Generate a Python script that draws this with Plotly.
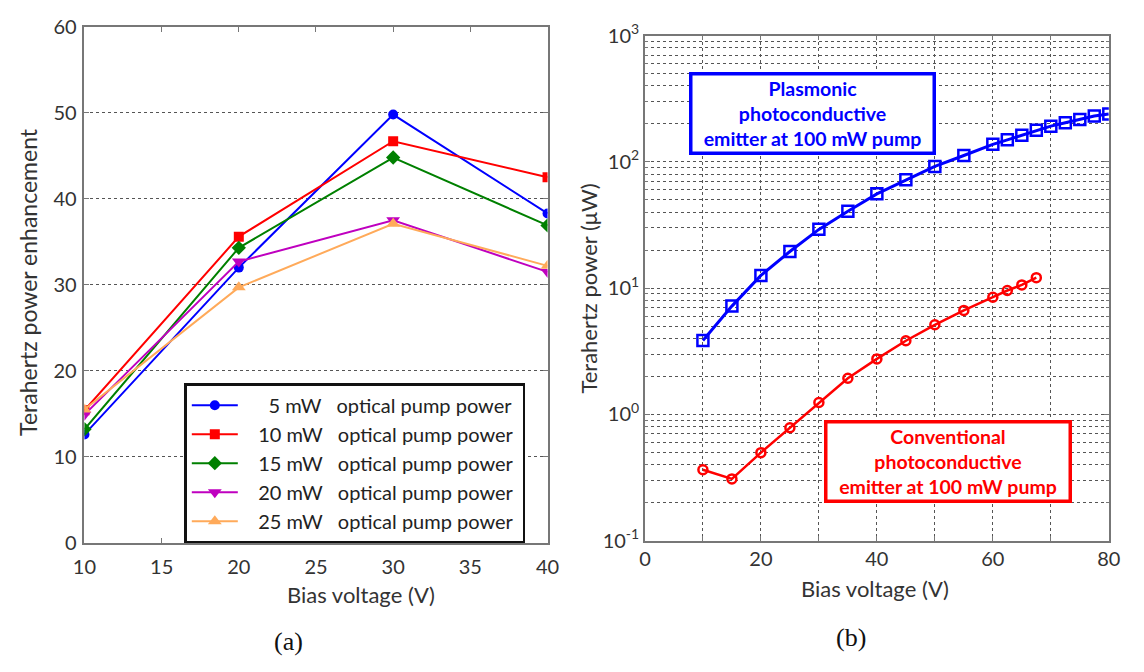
import plotly.graph_objects as go
import numpy as np

W, H = 1144, 672

# ---------------- data: panel (a) ----------------
bias_a = [10, 20, 30, 40]
pump_labels = ["5 mW", "10 mW", "15 mW", "20 mW", "25 mW"]
enh_5mW = [12.6, 32.0, 49.8, 38.3]
enh_10mW = [15.4, 35.6, 46.7, 42.5]
enh_15mW = [13.2, 34.3, 44.8, 36.9]
enh_20mW = [14.9, 32.7, 37.5, 31.5]
enh_25mW = [15.5, 29.7, 37.1, 32.2]

# ---------------- data: panel (b) ----------------
bias_plasmonic = [10, 15, 20, 25, 30, 35, 40, 45, 50, 55, 60, 62.5, 65, 67.5, 70, 72.5, 75, 77.5, 80]
power_plasmonic = [3.85, 7.2, 12.6, 19.5, 29.2, 40.7, 55.8, 72.1, 92.1, 112.4, 137.7, 149.6,
                   162.5, 178, 192, 204, 217, 231, 240]
bias_conventional = [10, 15, 20, 25, 30, 35, 40, 45, 50, 55, 60, 62.5, 65, 67.5]
power_conventional = [0.364, 0.308, 0.497, 0.783, 1.24, 1.93, 2.75, 3.83, 5.12, 6.66, 8.47,
                      9.57, 10.6, 12.1]

x_ticks_a = [10, 15, 20, 25, 30, 35, 40]
y_ticks_a = [0, 10, 20, 30, 40, 50, 60]
x_ticks_b = [0, 10, 20, 30, 40, 50, 60, 70, 80]
x_ticktext_b = ["0", "", "20", "", "40", "", "60", "", "80"]
y_ticks_b = [0.1, 1, 10, 100, 1000]
y_ticktext_b = ["10<sup>-1</sup>", "10<sup>0</sup>", "10<sup>1</sup>", "10<sup>2</sup>", "10<sup>3</sup>"]

FONT = "Lato"
TXT = "#333333"
AX = "#777777"
GRID = "#555555"
NB = "\u00a0"


def px(x):
    return x / W


def py(y):
    return 1 - y / H


fig = go.Figure()

series_a = [
    (enh_5mW, "#0000FF", "circle", 10),
    (enh_10mW, "#FF0000", "square", 10),
    (enh_15mW, "#008000", "diamond", 11),
    (enh_20mW, "#BF00BF", "triangle-down", 12),
    (enh_25mW, "#FFAA5A", "triangle-up", 12),
]
for i, (vals, col, sym, sz) in enumerate(series_a):
    lab = pump_labels[i]
    lead = NB * 5 if len(lab.split()[0]) == 1 else NB * 3
    name = lead + lab.replace(" ", NB) + NB * 3 + "optical pump power" + NB
    fig.add_trace(go.Scatter(
        x=bias_a, y=vals, mode="lines+markers", name=name,
        line=dict(color=col, width=2),
        marker=dict(symbol=sym, size=sz, color=col),
        xaxis="x", yaxis="y", legendgroup="g%d" % i,
    ))

fig.add_trace(go.Scatter(
    x=bias_plasmonic, y=power_plasmonic, mode="lines+markers", showlegend=False,
    line=dict(color="#0000FF", width=3),
    marker=dict(symbol="square-open", size=11, color="#0000FF", line=dict(width=2.5, color="#0000FF")),
    xaxis="x2", yaxis="y2",
))
fig.add_trace(go.Scatter(
    x=bias_conventional, y=power_conventional, mode="lines+markers", showlegend=False,
    line=dict(color="#FF0000", width=2.5),
    marker=dict(symbol="circle-open", size=9, color="#FF0000", line=dict(width=2.5, color="#FF0000")),
    xaxis="x2", yaxis="y2",
))

axis_common = dict(
    showline=True, linecolor=AX, linewidth=1.5, mirror="ticks",
    ticks="inside", ticklen=5, tickcolor=AX, tickwidth=1,
    tickfont=dict(family=FONT, size=20, color=TXT),
    zeroline=False,
)

fig.update_layout(
    width=W, height=H,
    margin=dict(l=0, r=0, t=0, b=0),
    paper_bgcolor="white", plot_bgcolor="white",
    font=dict(family=FONT, color=TXT),
    xaxis=dict(domain=[px(74), px(547)], range=[10, 40], tickvals=x_ticks_a,
               showgrid=False, anchor="y", ticklabelstandoff=5, **axis_common),
    yaxis=dict(domain=[py(549), py(12.3)], range=[0, 60], tickvals=y_ticks_a,
               showgrid=True, gridcolor=GRID, griddash="dot", gridwidth=1.3,
               anchor="x", ticklabelstandoff=2, **axis_common),
    xaxis2=dict(domain=[px(646.5), px(1120.3)], range=[0, 80], tickvals=x_ticks_b,
                ticktext=x_ticktext_b,
                showgrid=True, gridcolor=GRID, griddash="dot", gridwidth=1.3,
                anchor="y2", **axis_common),
    yaxis2=dict(domain=[py(546.7), py(21.5)], type="log", range=[-1, 3],
                tickvals=y_ticks_b, ticktext=y_ticktext_b,
                showgrid=True, gridcolor=GRID, griddash="dot", gridwidth=1.3,
                minor=dict(tickvals=[m * 10.0 ** e for e in range(-1, 3) for m in range(2, 10)],
                           showgrid=True, gridcolor=GRID, griddash="dot", gridwidth=1.3,
                           ticks="inside", ticklen=3, tickcolor=AX),
                anchor="x2", **axis_common),
    legend=dict(
        x=px(176), y=py(383), xanchor="left", yanchor="top",
        bgcolor="white", bordercolor="#111111", borderwidth=2.5,
        font=dict(family=FONT, size=20, color="#222222"),
        tracegroupgap=0, traceorder="grouped", itemwidth=46,
    ),
)

ann = [
    dict(text="Terahertz power enhancement", x=px(17), y=py(278), textangle=-90,
         font=dict(family=FONT, size=23, color=TXT)),
    dict(text="Bias voltage (V)", x=px(356), y=py(603),
         font=dict(family=FONT, size=22, color=TXT)),
    dict(text="Terahertz power (\u03bcW)", x=px(589), y=py(285), textangle=-90,
         font=dict(family=FONT, size=22, color=TXT)),
    dict(text="Bias voltage (V)", x=px(881), y=py(597),
         font=dict(family=FONT, size=22, color=TXT)),
    dict(text="(a)", x=px(282), y=py(652),
         font=dict(family="Liberation Serif", size=26, color="#111111")),
    dict(text="(b)", x=px(857), y=py(648),
         font=dict(family="Liberation Serif", size=26, color="#111111")),
    dict(text="<b>Plasmonic<br>photoconductive<br>emitter at 100 mW pump</b>",
         x=px(818), y=py(102), width=240, height=76, align="center", valign="middle",
         bordercolor="#0000FF", borderwidth=3.5, borderpad=0, bgcolor="white",
         font=dict(family=FONT, size=19.5, color="#0000FF")),
    dict(text="<b>Conventional<br>photoconductive<br>emitter at 100 mW pump</b>",
         x=px(956), y=py(464), width=241, height=76, align="center", valign="middle",
         bordercolor="#FF0000", borderwidth=3.5, borderpad=0, bgcolor="white",
         font=dict(family=FONT, size=19.5, color="#FF0000")),
]
for a in ann:
    a.update(xref="paper", yref="paper", showarrow=False, xanchor="center", yanchor="middle")
    fig.add_annotation(**a)

fig.write_html("out.html")
